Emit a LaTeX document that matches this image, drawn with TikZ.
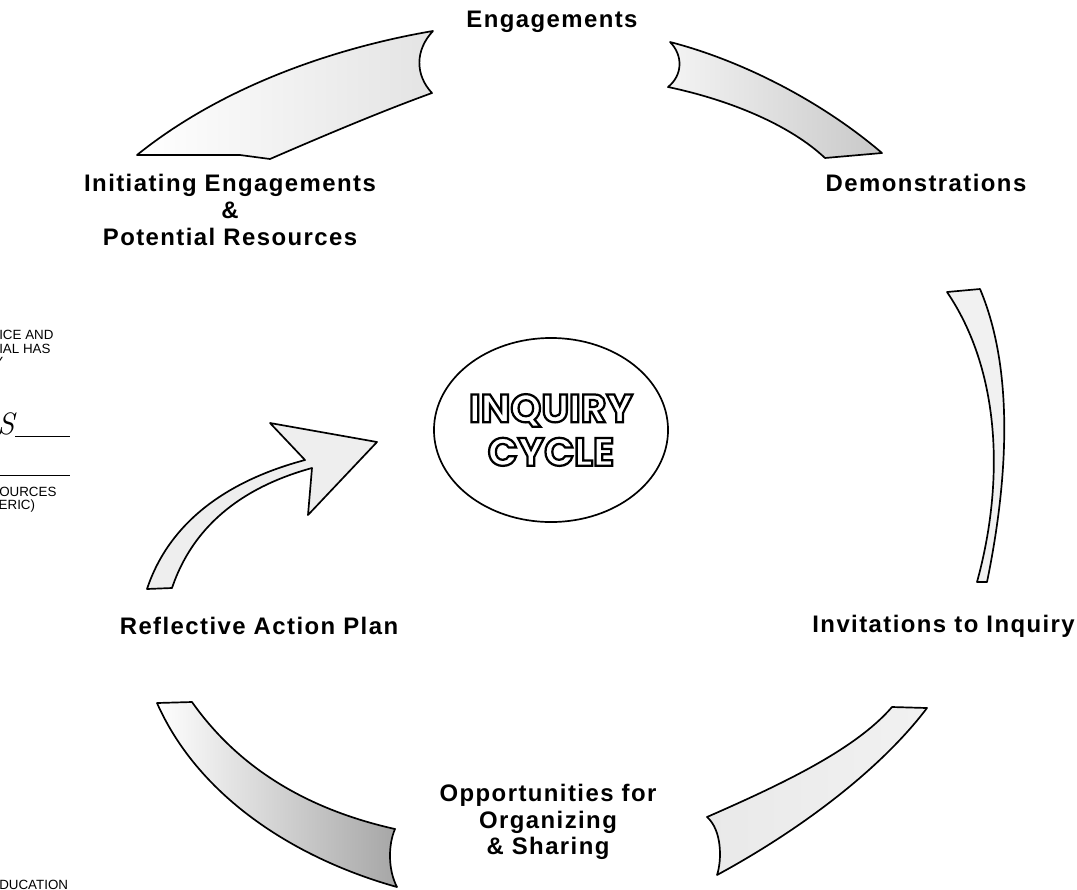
\documentclass[tikz,border=0pt]{standalone}
\usepackage{fontspec}
\usetikzlibrary{shapes.geometric}
\newfontfamily\lblfont[LetterSpace=6]{Liberation Sans}
\newfontfamily\formfont{Liberation Sans}
\newfontfamily\cycfont{Poppins}
\definecolor{stipple}{RGB}{200,200,200}
\newcommand\hollowtext[1]{{\color{white}\special{pdf:literal direct 2 Tr 1.6 w 0 G}#1\special{pdf:literal direct 0 Tr}}}

\begin{document}
\begin{tikzpicture}[x=0.025cm,y=-0.025cm,
	band/.style={draw=black,line width=1.2pt,line join=round},
	lbl/.style={font=\lblfont\bfseries\fontsize{17}{19}\selectfont,align=center,inner sep=0pt},
	form/.style={font=\formfont\fontsize{9.5}{11}\selectfont,anchor=west,inner sep=0pt}]
	\useasboundingbox (0,0) rectangle (1077,889);
	\draw[band,left color=white,middle color=stipple!90,right color=stipple!50] (433,31) .. controls (350,45) and (230,80) .. (137,155) -- (240,155) -- (270,159) .. controls (330,133) and (385,110) .. (432,93) .. controls (415,75) and (415,50) .. (433,31) -- cycle;
	\draw[band,left color=stipple!20,right color=stipple] (670,42) .. controls (740,60) and (820,100) .. (882,153) -- (825,158) .. controls (790,125) and (730,100) .. (668,87) .. controls (683,75) and (683,55) .. (670,42) -- cycle;
	\draw[band,fill=stipple!25] (947,292) -- (980,289) .. controls (1010,360) and (1012,460) .. (987,582) -- (977,582) .. controls (1005,480) and (1000,370) .. (947,292) -- cycle;
	\draw[band,left color=stipple!40,middle color=gray!75,right color=stipple!25] (892,707) -- (927,708) .. controls (880,770) and (800,830) .. (717,875) .. controls (722,860) and (722,830) .. (707,817) .. controls (780,785) and (855,750) .. (892,707) -- cycle;
	\draw[band,left color=white,middle color=stipple!60,right color=gray!70] (157,703) -- (192,702) .. controls (240,770) and (310,810) .. (395,829) .. controls (388,845) and (388,870) .. (397,887) .. controls (300,860) and (200,800) .. (157,703) -- cycle;
	\draw[band,fill=stipple!30] (147,589) .. controls (170,520) and (230,480) .. (305,460) -- (270,423) -- (377,442) -- (308,515) -- (312,468) .. controls (250,485) and (195,520) .. (172,588) -- cycle;
	\node[name=ring,draw,line width=1.2pt,ellipse,minimum width=5.85cm,minimum height=4.6cm] at (551,430) {};
	\node[name=cyc,font=\cycfont\bfseries\fontsize{28}{31}\selectfont,align=center] at (ring) {\hollowtext{INQUIRY}\\\hollowtext{CYCLE}};
	\node[name=eng,lbl] at (552,22) {Engagements};
	\node[name=dem,lbl] at (926,183) {Demonstrations};
	\node[name=ini,lbl] at (230,210) {Initiating Engagements\\\&\\Potential Resources};
	\node[name=ref,lbl] at (259,626) {Reflective Action Plan};
	\node[name=inv,lbl,anchor=east] at (1075,626) {Invitations to Inquiry};
	\node[name=opp,lbl] at (548,822) {Opportunities for\\Organizing\\\& Sharing};
	\node[name=f1,form] at (-1,335) {ICE AND};
	\node[name=f2,form] at (-1,349) {IAL HAS};
	\node[name=f3,form] at (-6,362) {Y};
	\node[name=f4,font=\itshape\fontsize{22}{24}\selectfont,inner sep=0pt] at (6,424) {S};
	\draw[thin] (15,436) -- (70,436) (0,475) -- (70,475);
	\node[name=f5,form] at (-1,492) {OURCES};
	\node[name=f6,form] at (-6,506) {(ERIC)};
	\node[name=f7,form] at (-1,885) {DUCATION};
\end{tikzpicture}
\end{document}
